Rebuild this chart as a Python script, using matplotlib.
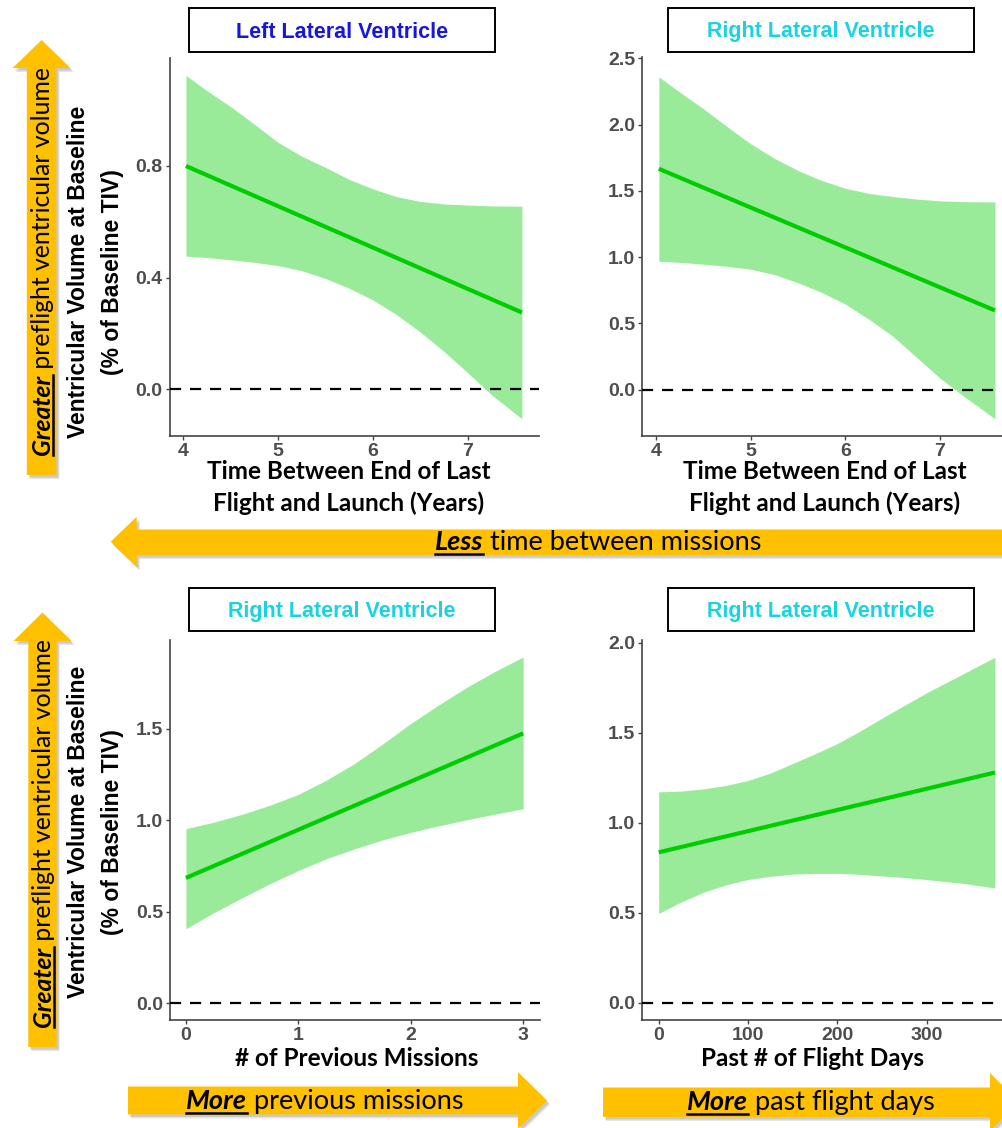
import matplotlib.pyplot as plt
from matplotlib.patches import Polygon, Rectangle

W, H = 1002, 1128

# ---- values ----
# top left: left lateral ventricle vs time between missions
tl_x = [4.03, 4.25, 4.5, 4.75, 5.0, 5.25, 5.5, 5.75, 6.0, 6.25, 6.5, 6.75, 7.0, 7.25, 7.57]
tl_upper = [1.125, 1.07, 1.013, 0.95, 0.885, 0.835, 0.795, 0.752, 0.718, 0.69, 0.673,
            0.664, 0.660, 0.657, 0.656]
tl_lower = [0.477, 0.472, 0.464, 0.455, 0.443, 0.425, 0.397, 0.362, 0.320, 0.267, 0.205,
            0.135, 0.059, -0.02, -0.106]
tl_fit_x = [4.03, 7.57]
tl_fit_y = [0.800, 0.275]

# top right: right lateral ventricle vs time between missions
tr_x = [4.03, 4.25, 4.5, 4.75, 5.0, 5.25, 5.5, 5.75, 6.0, 6.25, 6.5, 6.75, 7.0, 7.25, 7.58]
tr_upper = [2.360, 2.245, 2.120, 1.985, 1.855, 1.745, 1.653, 1.578, 1.519, 1.480, 1.457,
            1.438, 1.424, 1.418, 1.416]
tr_lower = [0.968, 0.960, 0.946, 0.930, 0.908, 0.868, 0.806, 0.733, 0.645, 0.530, 0.403,
            0.245, 0.086, -0.050, -0.221]
tr_fit_x = [4.03, 7.58]
tr_fit_y = [1.666, 0.597]

# bottom left: right lateral ventricle vs previous missions
bl_x = [0, 0.25, 0.5, 0.75, 1, 1.25, 1.5, 1.75, 2, 2.25, 2.5, 2.75, 3]
bl_upper = [0.954, 0.990, 1.033, 1.083, 1.142, 1.220, 1.311, 1.418, 1.530, 1.632, 1.729,
            1.815, 1.894]
bl_lower = [0.407, 0.495, 0.576, 0.654, 0.725, 0.790, 0.844, 0.893, 0.934, 0.970, 1.003,
            1.034, 1.063]
bl_fit_x = [0, 3]
bl_fit_y = [0.685, 1.476]

# bottom right: right lateral ventricle vs past flight days
br_x = [0, 25, 50, 75, 100, 125, 150, 175, 200, 225, 250, 275, 300, 340, 376.5]
br_upper = [1.172, 1.176, 1.188, 1.207, 1.235, 1.276, 1.329, 1.383, 1.440, 1.508, 1.581,
            1.652, 1.722, 1.825, 1.919]
br_lower = [0.497, 0.560, 0.614, 0.655, 0.685, 0.703, 0.715, 0.719, 0.719, 0.714, 0.705,
            0.696, 0.685, 0.664, 0.638]
br_fit_x = [0, 376.5]
br_fit_y = [0.836, 1.279]

titles = ["Left Lateral Ventricle", "Right Lateral Ventricle",
          "Right Lateral Ventricle", "Right Lateral Ventricle"]
title_colors = ["#1616E2", "#1BD3DF", "#1BD3DF", "#1BD3DF"]
xlabels = ["Time Between End of Last\nFlight and Launch (Years)",
           "Time Between End of Last\nFlight and Launch (Years)",
           "# of Previous Missions", "Past # of Flight Days"]
xticks = [[4, 5, 6, 7], [4, 5, 6, 7], [0, 1, 2, 3], [0, 100, 200, 300]]
yticks = [[0.0, 0.4, 0.8], [0.0, 0.5, 1.0, 1.5, 2.0, 2.5],
          [0.0, 0.5, 1.0, 1.5], [0.0, 0.5, 1.0, 1.5, 2.0]]
ylabel_1 = "Ventricular Volume at Baseline"
ylabel_2 = "(% of Baseline TIV)"
side_text = ("Greater", " preflight ventricular volume")
arrow_texts = [("Less", " time between missions"),
               ("More", " previous missions"),
               ("More", " past flight days")]

ORANGE = "#FFC000"
plt.rcParams['font.family'] = ['Liberation Sans', 'DejaVu Sans']

fig = plt.figure(figsize=(W / 100, H / 100), dpi=100)
bg = fig.add_axes([0, 0, 1, 1])
bg.set_xlim(0, W)
bg.set_ylim(H, 0)
bg.axis('off')


def px_axes(x0, y0, x1, y1):
    return fig.add_axes([x0 / W, 1 - y1 / H, (x1 - x0) / W, (y1 - y0) / H])


def arrow(pts):
    for dx, dy, a in [(3, 4, 0.10), (2, 2.5, 0.12)]:
        bg.add_patch(Polygon([(x + dx, y + dy) for x, y in pts], closed=True,
                             fc='black', ec='none', alpha=a))
    bg.add_patch(Polygon(pts, closed=True, fc=ORANGE, ec='none'))


def arrow_label(x, y, bold, rest, size, rotation=0):
    kw = dict(family=['Lato', 'DejaVu Sans'], fontsize=size, rotation=rotation,
              rotation_mode='anchor', ha='left', va='baseline', color='black')
    t1 = bg.text(x, y, bold, fontweight='bold', style='italic', **kw)
    bb = t1.get_window_extent(fig.canvas.get_renderer())
    if rotation == 0:
        w = bb.width
        bg.text(x + w, y, rest, **kw)
        bg.plot([x, x + w], [y + 3.5, y + 3.5], color='black', lw=1.8)
    else:
        w = bb.height
        bg.text(x, y - w, rest, **kw)
        bg.plot([x + 3.5, x + 3.5], [y, y - w], color='black', lw=1.8)


# ---- arrows ----
arrow([(26.8, 475), (56.4, 475), (56.4, 68), (70.4, 68), (41.6, 40),
       (12.6, 68), (26.8, 68)])
arrow([(28.3, 1047), (56.7, 1047), (56.7, 641), (71.5, 641), (42.5, 612.5),
       (13.5, 641), (28.3, 641)])
arrow([(1010, 529.5), (136.7, 529.5), (136.7, 516.7), (110.7, 541.7),
       (136.7, 566.7), (136.7, 555), (1010, 555)])
arrow([(128, 1086.5), (518, 1086.5), (518, 1072), (547, 1100.5),
       (518, 1129), (518, 1114.5), (128, 1114.5)])
arrow([(603, 1087.5), (990, 1087.5), (990, 1073), (1019, 1102),
       (990, 1131), (990, 1117), (603, 1117)])

arrow_label(50, 455, side_text[0], side_text[1], 17.8, rotation=90)
arrow_label(51, 1027, side_text[0], side_text[1], 17.8, rotation=90)
arrow_label(435, 550, arrow_texts[0][0], arrow_texts[0][1], 19.5)
arrow_label(186, 1109, arrow_texts[1][0], arrow_texts[1][1], 19.5)
arrow_label(687, 1110, arrow_texts[2][0], arrow_texts[2][1], 19.5)

# ---- y labels ----
for cy in [272, 832]:
    bg.text(78.6, cy, ylabel_1, rotation=90, ha='center', va='center',
            fontsize=16.5, fontweight='bold', color='black')
    bg.text(112.5, cy, ylabel_2, rotation=90, ha='center', va='center',
            fontsize=16.5, fontweight='bold', color='black')

# ---- panels ----
panels = [
    ((169.5, 58, 539, 436.4), (3.857, 7.75), (-0.169, 1.187),
     tl_x, tl_lower, tl_upper, tl_fit_x, tl_fit_y),
    ((642, 57, 1011, 436.4), (3.852, 7.75), (-0.354, 2.51),
     tr_x, tr_lower, tr_upper, tr_fit_x, tr_fit_y),
    ((170, 640, 540, 1020), (-0.142, 3.15), (-0.093, 1.987),
     bl_x, bl_lower, bl_upper, bl_fit_x, bl_fit_y),
    ((642, 640, 1011, 1020), (-18.7, 394.5), (-0.095, 2.015),
     br_x, br_lower, br_upper, br_fit_x, br_fit_y),
]
title_boxes = [(189, 8, 495, 52), (668, 8, 974, 52),
               (189, 588, 495, 631), (668, 588, 974, 631)]
xlabel_pos = [(349, 478.6), (825, 478.6), (357, 1066), (813, 1066)]

for i, (rect, xl, yl, x, lo, up, fx, fy) in enumerate(panels):
    ax = px_axes(*rect)
    ax.set_facecolor('none')
    ax.fill_between(x, lo, up, color='#99EB99', lw=0, zorder=1)
    ax.plot(fx, fy, color='#00CD00', lw=3, solid_capstyle='butt', zorder=2)
    ax.axhline(0, color='black', lw=1.6, ls=(0, (5, 4)), zorder=3)
    ax.set_xlim(*xl)
    ax.set_ylim(*yl)
    ax.set_xticks(xticks[i])
    ax.set_yticks(yticks[i])
    ax.set_yticklabels([f"{v:.1f}" for v in yticks[i]])
    for s in ['top', 'right']:
        ax.spines[s].set_visible(False)
    for s in ['left', 'bottom']:
        ax.spines[s].set_color('#444444')
        ax.spines[s].set_linewidth(1.2)
    ax.tick_params(length=3, width=1, color='#444444', pad=2,
                   labelsize=14, labelcolor='#4D4D4D')
    for lab in ax.get_xticklabels() + ax.get_yticklabels():
        lab.set_fontweight('bold')

    x0, y0, x1, y1 = title_boxes[i]
    bg.add_patch(Rectangle((x0, y0), x1 - x0, y1 - y0, fc='white',
                           ec='black', lw=1.4))
    bg.text((x0 + x1) / 2, y1 - 14.5, titles[i], ha='center', va='baseline',
            fontsize=15.5, fontweight='bold', color=title_colors[i])

    lx, ly = xlabel_pos[i]
    lines = xlabels[i].split("\n")
    for k, line in enumerate(lines):
        bg.text(lx, ly + 32 * k, line, ha='center', va='baseline',
                family=['Lato', 'DejaVu Sans'], fontsize=17.5,
                fontweight='bold', color='black')

fig.savefig('out.png', dpi=100)
